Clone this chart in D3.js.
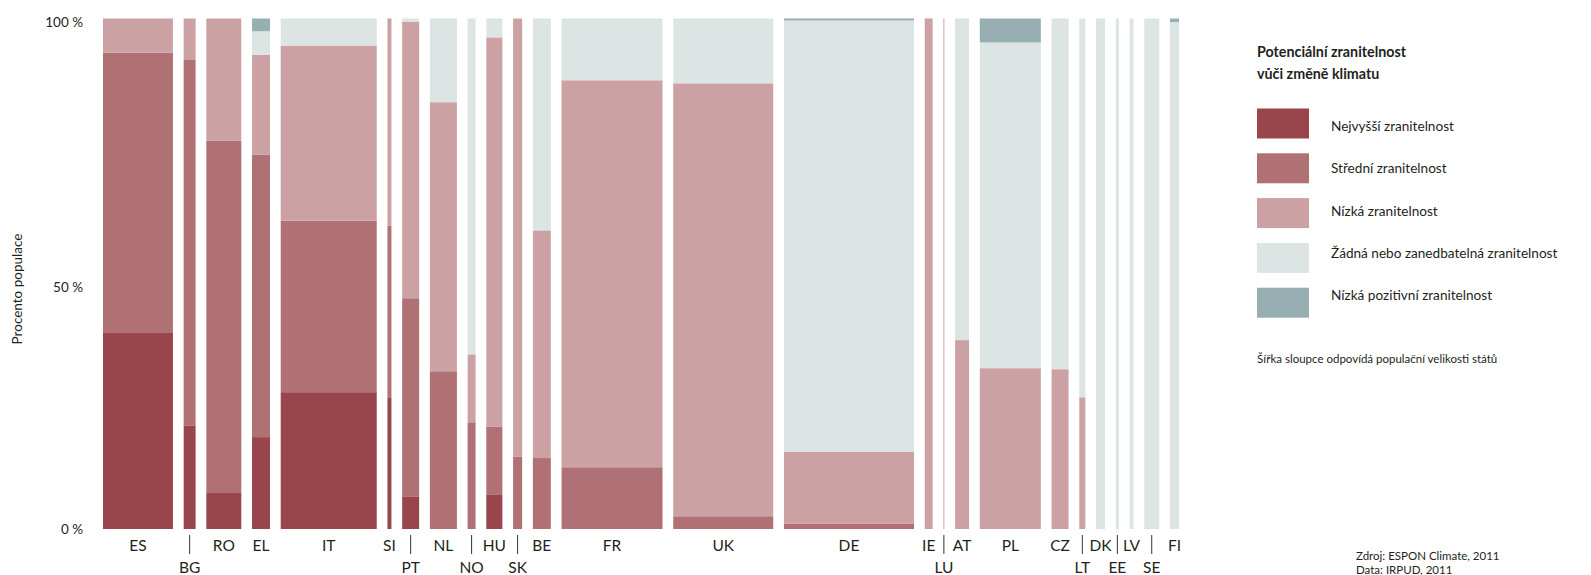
<!DOCTYPE html>
<html>
<head>
<meta charset="utf-8">
<script src="https://cdn.jsdelivr.net/npm/d3@7"></script>
<style>
  body { margin: 0; background: #fff; }
  svg { display: block; font-family: Lato, "Noto Sans", sans-serif; }
</style>
</head>
<body>
<svg id="chart" width="1591" height="575"></svg>
<script>
// ---------- DATA ----------
const countries = ["ES","BG","RO","EL","IT","SI","PT","NL","NO","HU","SK","BE","FR","UK","DE","IE","LU","AT","PL","CZ","LT","DK","EE","LV","SE","FI"];
// population (millions) – bar widths
const population = [44.0, 7.5, 22.0, 11.3, 60.4, 2.5, 10.7, 17.0, 5.0, 10.1, 5.7, 11.3, 63.5, 62.9, 81.8, 5.0, 0.6, 8.8, 38.4, 10.7, 3.8, 5.7, 1.9, 2.5, 9.4, 5.7];
// label row (1 = directly under bar, 2 = second row with leader line)
const labelRow = [1,2,1,1,1,1,2,1,2,1,2,1,1,1,1,1,2,1,1,1,2,1,2,1,2,1];

// % of population per vulnerability class
const highest  = [38.4, 20.3, 7.2, 18.0, 26.8, 25.8, 6.4, 0, 0, 6.8, 0, 0, 0, 0, 0, 0, 0, 0, 0, 0, 0, 0, 0, 0, 0, 0];
const medium   = [54.9, 71.7, 68.9, 55.3, 33.6, 33.6, 38.8, 30.9, 20.9, 13.2, 14.2, 13.9, 12.1, 2.5, 1.0, 0, 0, 0, 0, 0, 0, 0, 0, 0, 0, 0];
const low      = [6.7, 8.0, 23.9, 19.6, 34.3, 40.6, 54.2, 52.7, 13.3, 76.3, 85.8, 44.6, 75.8, 84.8, 14.1, 100, 100, 37.0, 31.5, 31.3, 25.8, 0, 0, 0, 0, 0];
const none     = [0, 0, 0, 4.6, 5.3, 0, 0.6, 16.4, 65.8, 3.7, 0, 41.5, 12.1, 12.7, 84.5, 0, 0, 63.0, 63.8, 68.7, 74.2, 100, 100, 100, 100, 99.3];
const positive = [0, 0, 0, 2.5, 0, 0, 0, 0, 0, 0, 0, 0, 0, 0, 0.4, 0, 0, 0, 4.7, 0, 0, 0, 0, 0, 0, 0.7];

const seriesKeys   = ["highest","medium","low","none","positive"];
const seriesLabels = ["Nejvyšší zranitelnost","Střední zranitelnost","Nízká zranitelnost","Žádná nebo zanedbatelná zranitelnost","Nízká pozitivní zranitelnost"];
const seriesColors = ["#98464c","#b07175","#cca1a3","#dce5e3","#97aeb2"];
const yTicks = [0, 50, 100];

const legendTitle = ["Potenciální zranitelnost","vůči změně klimatu"];
const legendNote = "Šířka sloupce odpovídá populační velikosti států";
const sourceLines = ["Zdroj: ESPON Climate, 2011","Data: IRPUD, 2011"];
const yTitle = "Procento populace";

// ---------- BUILD ----------
const rows = countries.map((c, i) => ({
  country: c, pop: population[i], row: labelRow[i],
  highest: highest[i], medium: medium[i], low: low[i], none: none[i], positive: positive[i]
}));

const svg = d3.select("#chart");
const textColor = "#231f20";

const plotLeft = 103, plotRight = 1179, gap = 10.72;
const totalPop = d3.sum(population);
const w = d3.scaleLinear().domain([0, totalPop]).range([0, (plotRight - plotLeft) - gap * (countries.length - 1)]);
let cum = 0;
rows.forEach((d, i) => { d.x0 = plotLeft + w(cum) + i * gap; d.w = w(d.pop); cum += d.pop; });

const y = d3.scaleLinear().domain([0, 100]).range([529, 18.5]);
const color = d3.scaleOrdinal().domain(seriesKeys).range(seriesColors);

const stacked = d3.stack().keys(seriesKeys)(rows);

svg.append("g").selectAll("g").data(stacked).join("g")
  .attr("fill", s => color(s.key))
  .selectAll("rect").data(s => s.filter(d => d[1] - d[0] > 0)).join("rect")
  .attr("x", d => d.data.x0)
  .attr("width", d => d.data.w)
  .attr("y", d => y(d[1]))
  .attr("height", d => y(d[0]) - y(d[1]));

// y axis
const yAxis = svg.append("g").attr("transform", "translate(85,0)")
  .call(d3.axisLeft(y).tickValues(yTicks).tickFormat(d => d + " %").tickSize(0).tickPadding(2));
yAxis.select(".domain").remove();
yAxis.selectAll("text")
  .attr("fill", textColor)
  .style("font-family", "Lato, sans-serif")
  .style("font-size", "13.5px")
  .attr("dy", d => d === 50 ? "1.3em" : d === 100 ? "0.62em" : "0.35em");

svg.append("text")
  .attr("transform", "translate(17,289) rotate(-90)")
  .attr("text-anchor", "middle").attr("dominant-baseline", "central")
  .attr("fill", textColor).style("font-size", "13.5px")
  .text(yTitle);

// country labels
const lab = svg.append("g");
rows.forEach(d => {
  const cx = d.x0 + d.w / 2;
  if (d.row === 2) {
    lab.append("line").attr("x1", cx).attr("x2", cx).attr("y1", 535).attr("y2", 554)
      .attr("stroke", "#333").attr("stroke-width", 1);
  }
  lab.append("text").attr("x", cx).attr("y", d.row === 1 ? 551 : 573)
    .attr("text-anchor", "middle").attr("fill", textColor)
    .style("font-size", "15.5px").text(d.country);
});

// legend
const lg = svg.append("g");
legendTitle.forEach((t, i) => {
  lg.append("text").attr("x", 1257).attr("y", 57 + i * 22)
    .attr("fill", textColor).style("font-size", "14.3px").style("font-weight", "bold").text(t);
});
seriesKeys.forEach((k, i) => {
  const top = 108.5 + i * 44.8;
  lg.append("rect").attr("x", 1257).attr("y", top).attr("width", 52).attr("height", 30).attr("fill", color(k));
  lg.append("text").attr("x", 1331).attr("y", 126 + i * 42.3).attr("dominant-baseline", "central")
    .attr("fill", textColor).style("font-size", "13.6px").text(seriesLabels[i]);
});
lg.append("text").attr("x", 1257).attr("y", 363)
  .attr("fill", textColor).style("font-size", "11.5px").text(legendNote);

sourceLines.forEach((t, i) => {
  svg.append("text").attr("x", 1356).attr("y", 560 + i * 14)
    .attr("fill", textColor).style("font-size", "11.5px").text(t);
});
</script>
</body>
</html>
